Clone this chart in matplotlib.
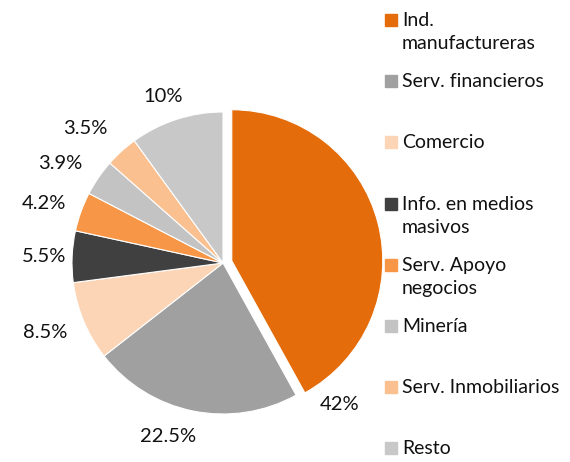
import matplotlib.pyplot as plt
from matplotlib.patches import Rectangle

# Data
sectores = ['Ind.\nmanufactureras', 'Serv. financieros', 'Comercio',
            'Info. en medios\nmasivos', 'Serv. Apoyo\nnegocios', 'Minería',
            'Serv. Inmobiliarios', 'Resto']
valores = [42, 22.5, 8.5, 5.5, 4.2, 3.9, 3.5, 10]
etiquetas = ['42%', '22.5%', '8.5%', '5.5%', '4.2%', '3.9%', '3.5%', '10%']
colores = ['#E46C0A', '#A0A0A0', '#FBD5B5', '#404040', '#F79646',
           '#C3C3C3', '#FAC090', '#C8C8C8']

# label anchor positions (radius units, relative to pie centre)
pos_etiq = [(0.775, -0.94), (-0.364, -1.152), (-1.179, -0.457), (-1.185, 0.046),
            (-1.185, 0.397), (-1.08, 0.662), (-0.914, 0.894), (-0.397, 1.10)]

plt.rcParams['font.family'] = ['Lato', 'DejaVu Sans']

W, H = 570, 462
fig = plt.figure(figsize=(W / 100, H / 100), dpi=100)
ax = fig.add_axes([0, 0, 1, 1])

cx, cy, r = 223, 462 - 263, 151
explode = [0.06] + [0] * (len(valores) - 1)
ax.pie(valores, colors=colores, startangle=90, counterclock=False,
       explode=explode, radius=1,
       wedgeprops=dict(edgecolor='white', linewidth=0.8))
ax.set_xlim(-cx / r, (W - cx) / r)
ax.set_ylim(-cy / r, (H - cy) / r)
ax.set_aspect('equal')
ax.set_axis_off()

for txt, (x, y) in zip(etiquetas, pos_etiq):
    ax.text(x, y, txt, ha='center', va='center', fontsize=14.5, color='#111111')

# Legend drawn by hand
y0, paso = 20, 61.2
for i, (lab, col) in enumerate(zip(sectores, colores)):
    yp = y0 + i * paso
    fig.patches.append(Rectangle((385 / W, 1 - (yp + 6) / H), 12 / W, 12 / H,
                                 transform=fig.transFigure, color=col))
    fig.text(402 / W, 1 - (yp - 8) / H, lab, ha='left', va='top',
             fontsize=14, color='#111111', linespacing=1.45)

fig.savefig('out.png', dpi=100)
